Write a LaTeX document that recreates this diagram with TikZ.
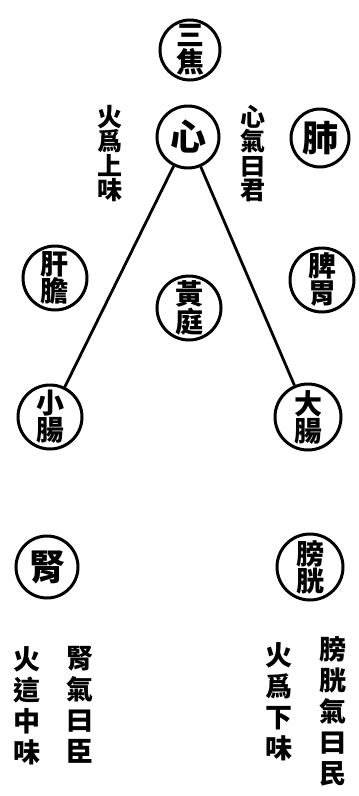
\documentclass[tikz,border=0pt]{standalone}
\usepackage{fontspec}
\newfontfamily\cjk{Noto Sans CJK TC}
\begin{document}
\begin{tikzpicture}[x=1pt,y=-1pt,
  organ/.style={draw, circle, line width=3pt, minimum size=62pt, inner sep=0pt, align=center},
  onechar/.style={font=\cjk\bfseries\fontsize{36}{36}\selectfont},
  twochar/.style={font=\cjk\bfseries\fontsize{28}{27}\selectfont},
  vtext/.style={align=center, inner sep=0pt, font=\cjk\bfseries\fontsize{25}{24.5}\selectfont},
  vtextb/.style={align=center, inner sep=0pt, font=\cjk\bfseries\fontsize{27}{31}\selectfont},
  link/.style={line width=2.8pt}]
\useasboundingbox[fill=white] (0,0) rectangle (359,796);

\node[organ, twochar, minimum size=60pt] (sanjiao) at (190,50) {三\\焦};
\node[organ, onechar] (xin) at (188,137) {心};
\node[organ, onechar, minimum size=58pt] (fei) at (320,138) {肺};
\node[organ, twochar, minimum size=64pt] (gandan) at (55,278) {肝\\膽};
\node[organ, twochar, minimum size=64pt] (piwei) at (322,280) {脾\\胃};
\node[organ, twochar, minimum size=64pt] (huangting) at (189,308) {黃\\庭};
\node[organ, twochar, minimum size=64pt] (xiaochang) at (50,417) {小\\腸};
\node[organ, twochar, minimum size=66pt] (dachang) at (308,417) {大\\腸};
\node[organ, onechar, minimum size=62pt] (shen) at (47,567) {腎};
\node[organ, twochar, minimum size=66pt] (pangguang) at (310,567) {膀\\胱};

\draw[link] (xin) -- (xiaochang);
\draw[link] (xin) -- (dachang);

\node[vtext, anchor=north] (t1) at (110,105) {火\\爲\\上\\味};
\node[vtext, anchor=north] (t2) at (253,105) {心\\氣\\曰\\君};
\node[vtextb, anchor=north] (t3) at (27,646) {火\\這\\中\\味};
\node[vtextb, anchor=north] (t4) at (80,646) {腎\\氣\\曰\\臣};
\node[vtextb, anchor=north] (t5) at (279,642) {火\\爲\\下\\味};
\node[vtextb, anchor=north] (t6) at (333,636) {膀\\胱\\氣\\曰\\民};
\end{tikzpicture}
\end{document}
